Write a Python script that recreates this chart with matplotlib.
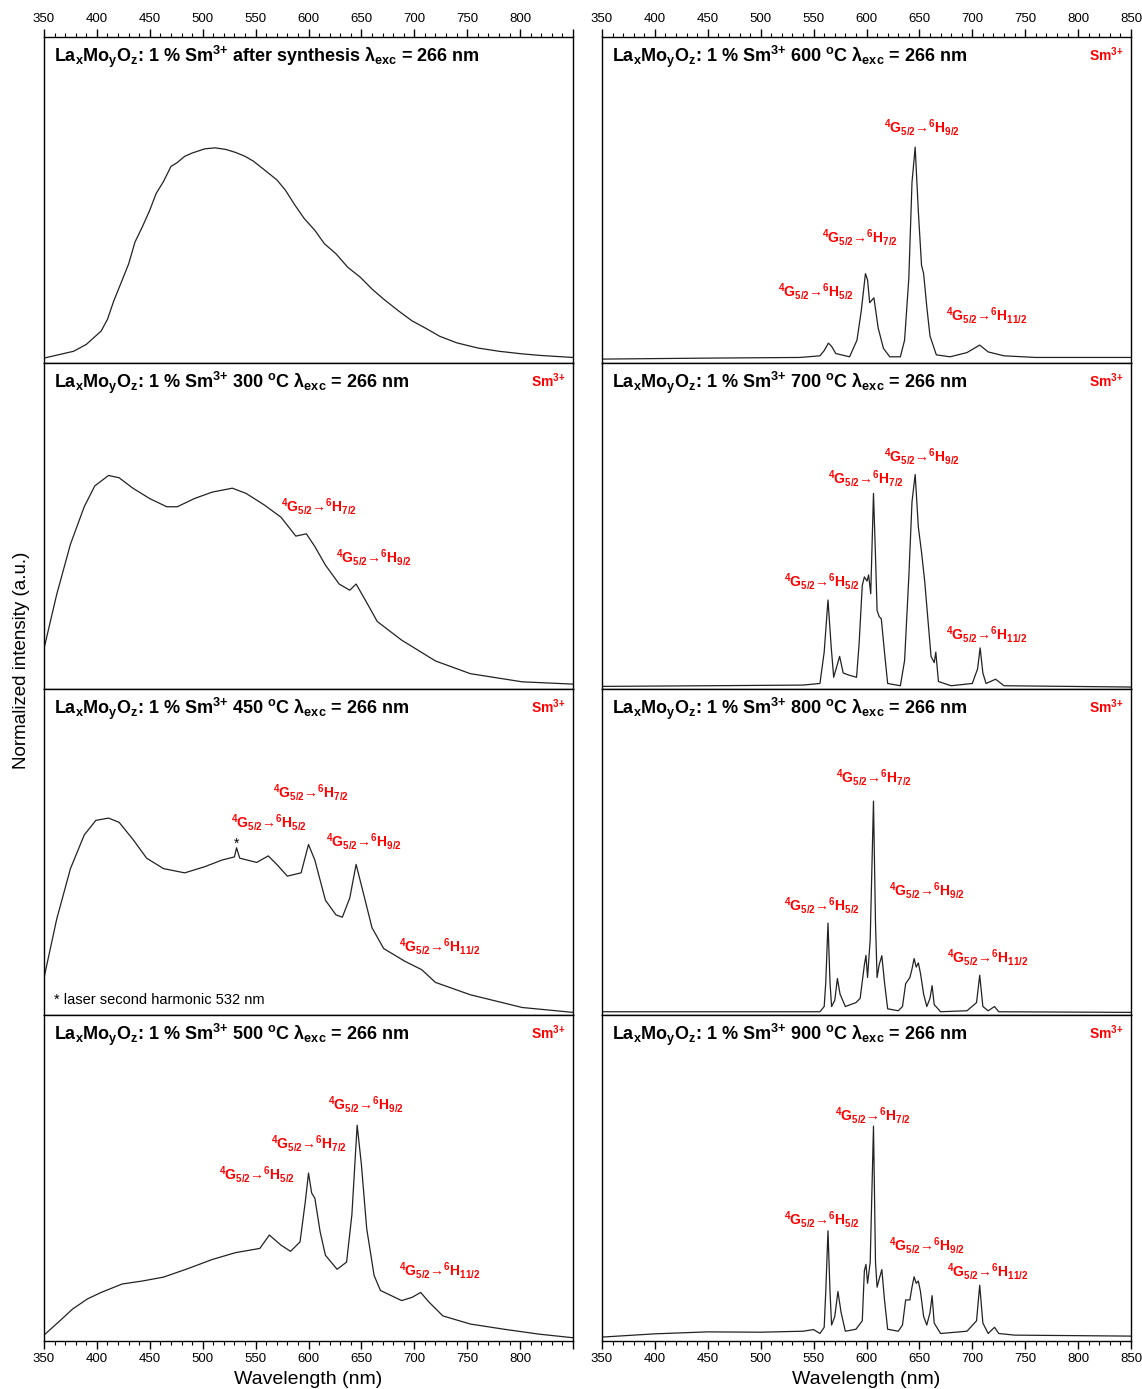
import matplotlib
matplotlib.use("Agg")
import matplotlib.pyplot as plt
from matplotlib.ticker import MultipleLocator

plt.rcParams['font.family'] = ['Liberation Sans', 'DejaVu Sans']
plt.rcParams['mathtext.default'] = 'regular'

# ---- data (wavelength in nm, intensity normalised to panel height) ----
wl_syn = [350, 378, 390, 404, 410, 416, 423, 430, 436, 443, 450, 456, 463, 470, 476, 483, 490, 502,
          512, 522, 531, 540, 548, 560, 570, 578, 587, 596, 606, 615, 626, 637, 649, 660, 671, 685,
          698, 710, 724, 740, 760, 780, 802, 820, 850]
int_syn = [0.015, 0.036, 0.057, 0.098, 0.134, 0.191, 0.247, 0.304, 0.371, 0.418, 0.469, 0.52, 0.557,
           0.603, 0.615, 0.634, 0.644, 0.657, 0.66, 0.655, 0.646, 0.634, 0.619, 0.588, 0.562, 0.531,
           0.485, 0.443, 0.407, 0.366, 0.335, 0.294, 0.263, 0.227, 0.196, 0.16, 0.129, 0.108, 0.082,
           0.062, 0.046, 0.036, 0.028, 0.023, 0.017]

wl_300 = [350, 362, 375, 388, 398, 411, 421, 434, 450, 466, 476, 492, 509, 528, 541, 558, 574, 588,
          598, 606, 616, 629, 639, 645, 654, 665, 688, 720, 753, 802, 850]
int_300 = [0.124, 0.29, 0.444, 0.559, 0.623, 0.655, 0.648, 0.616, 0.584, 0.559, 0.559, 0.584, 0.604,
           0.616, 0.60, 0.565, 0.527, 0.469, 0.476, 0.437, 0.38, 0.322, 0.303, 0.322, 0.271, 0.207,
           0.15, 0.086, 0.047, 0.022, 0.015]

wl_450 = [350, 362, 375, 388, 399, 411, 421, 434, 447, 463, 483, 502, 518, 530, 532, 535, 551, 562,
          570, 580, 593, 600, 606, 616, 626, 632, 639, 645, 652, 660, 671, 691, 707, 720, 753, 802, 850]
int_450 = [0.114, 0.294, 0.449, 0.552, 0.597, 0.604, 0.591, 0.539, 0.481, 0.449, 0.436, 0.455, 0.475,
           0.485, 0.513, 0.481, 0.468, 0.488, 0.462, 0.426, 0.436, 0.523, 0.475, 0.352, 0.307, 0.30,
           0.359, 0.462, 0.372, 0.268, 0.204, 0.165, 0.139, 0.10, 0.062, 0.023, 0.008]

wl_500 = [350, 365, 377, 391, 404, 424, 443, 463, 486, 509, 531, 554, 563, 574, 583, 592, 597, 600,
          603, 606, 611, 616, 627, 636, 641, 646, 650, 655, 662, 668, 688, 698, 706, 714, 727, 753,
          785, 818, 850]
int_500 = [0.018, 0.062, 0.098, 0.129, 0.149, 0.175, 0.184, 0.196, 0.222, 0.25, 0.271, 0.284, 0.325,
           0.294, 0.275, 0.304, 0.428, 0.515, 0.454, 0.438, 0.335, 0.263, 0.22, 0.242, 0.387, 0.662,
           0.541, 0.345, 0.201, 0.155, 0.124, 0.134, 0.149, 0.119, 0.077, 0.052, 0.036, 0.021, 0.01]

wl_600 = [350, 450, 537, 556, 560, 564, 567, 571, 584, 591, 595, 599, 601, 603, 607, 611, 616, 622,
          632, 636, 640, 643, 646, 649, 652, 654, 657, 660, 666, 679, 695, 707, 715, 730, 760, 850]
int_600 = [0.012, 0.015, 0.017, 0.022, 0.038, 0.061, 0.051, 0.029, 0.019, 0.07, 0.159, 0.274, 0.255,
           0.185, 0.20, 0.108, 0.045, 0.019, 0.019, 0.07, 0.26, 0.554, 0.662, 0.465, 0.30, 0.274,
           0.172, 0.083, 0.025, 0.019, 0.032, 0.055, 0.034, 0.022, 0.017, 0.017]

wl_700 = [350, 450, 540, 556, 560, 563.6, 566.7, 569, 574.6, 578, 584, 590.6, 593, 596, 598, 600.5,
          602, 604, 606.6, 608.5, 610, 612, 614, 617, 620, 632, 636, 640, 643, 646, 649, 652, 655,
          658, 661, 664, 665.5, 668, 680, 700, 705, 707.4, 710, 713, 722, 730, 850]
int_700 = [0.008, 0.01, 0.012, 0.017, 0.113, 0.273, 0.126, 0.036, 0.10, 0.049, 0.042, 0.036, 0.138,
           0.318, 0.344, 0.331, 0.35, 0.292, 0.60, 0.408, 0.241, 0.222, 0.215, 0.113, 0.017, 0.01,
           0.087, 0.344, 0.574, 0.658, 0.497, 0.42, 0.331, 0.215, 0.10, 0.081, 0.113, 0.023, 0.01,
           0.017, 0.062, 0.126, 0.049, 0.017, 0.03, 0.01, 0.006]

wl_800 = [350, 450, 540, 556, 560, 561.5, 563.6, 565.5, 567, 570, 572.5, 575, 580, 590, 594, 598,
          599.5, 601, 603.5, 606.6, 608.5, 610, 612, 614.5, 617, 620, 630, 634, 637, 641, 643, 645,
          647, 649, 651, 654, 657, 660, 662, 664, 670, 695, 704, 707, 710, 715, 721, 725, 850]
int_800 = [0.01, 0.01, 0.01, 0.01, 0.026, 0.10, 0.282, 0.10, 0.026, 0.045, 0.112, 0.064, 0.026,
           0.038, 0.051, 0.154, 0.183, 0.115, 0.231, 0.656, 0.282, 0.115, 0.154, 0.182, 0.10, 0.019,
           0.013, 0.026, 0.096, 0.115, 0.141, 0.173, 0.147, 0.16, 0.128, 0.064, 0.026, 0.051, 0.09,
           0.032, 0.01, 0.013, 0.038, 0.122, 0.026, 0.013, 0.026, 0.01, 0.008]

wl_900 = [350, 400, 450, 500, 540, 550, 556, 560, 561.5, 563.6, 565.5, 567, 570, 573, 576, 580, 590,
          596, 598, 599.5, 601, 603.5, 606.6, 608.5, 610, 612, 614.5, 617, 620, 630, 634, 637, 641,
          643, 645, 647, 649, 651, 654, 657, 660, 662, 664, 670, 695, 704, 707, 710, 715, 721, 725,
          740, 850]
int_900 = [0.012, 0.022, 0.028, 0.027, 0.03, 0.035, 0.023, 0.042, 0.152, 0.338, 0.152, 0.049, 0.075,
           0.152, 0.087, 0.03, 0.036, 0.062, 0.216, 0.235, 0.177, 0.242, 0.659, 0.242, 0.165, 0.19,
           0.219, 0.126, 0.036, 0.03, 0.049, 0.126, 0.126, 0.165, 0.197, 0.177, 0.184, 0.152, 0.075,
           0.049, 0.087, 0.139, 0.055, 0.023, 0.03, 0.062, 0.171, 0.055, 0.023, 0.042, 0.023, 0.018,
           0.015]

conditions = ['after synthesis', '300 $^o$C', '450 $^o$C', '500 $^o$C',
              '600 $^o$C', '700 $^o$C', '800 $^o$C', '900 $^o$C']
spectra = [(wl_syn, int_syn), (wl_300, int_300), (wl_450, int_450), (wl_500, int_500),
           (wl_600, int_600), (wl_700, int_700), (wl_800, int_800), (wl_900, int_900)]

# transition labels per panel: (final state, wavelength, height)
labels = [
    [],
    [('7/2', 574, 0.561), ('9/2', 626, 0.402)],
    [('7/2', 566.5, 0.684), ('5/2', 526.7, 0.592), ('9/2', 616.5, 0.531), ('11/2', 685.5, 0.209)],
    [('9/2', 618.4, 0.724), ('7/2', 564.6, 0.607), ('5/2', 515.4, 0.512), ('11/2', 685.5, 0.215)],
    [('9/2', 616.5, 0.723), ('7/2', 558, 0.385), ('5/2', 516.4, 0.218), ('11/2', 675, 0.145)],
    [('9/2', 616.5, 0.712), ('7/2', 563.6, 0.647), ('5/2', 522, 0.331), ('11/2', 675, 0.166)],
    [('7/2', 571, 0.73), ('5/2', 522, 0.337), ('9/2', 621.3, 0.383), ('11/2', 676, 0.175)],
    [('7/2', 570, 0.693), ('5/2', 522, 0.374), ('9/2', 621.3, 0.294), ('11/2', 676, 0.212)],
]

W, H = 1142, 1389
fig = plt.figure(figsize=(W / 100, H / 100), dpi=100)

left_px = [44, 602]
ax_w = 529 / W
row_h = 326 / H
top = 1 - 37 / H

for i in range(8):
    col = i // 4
    row = i % 4
    ax = fig.add_axes([left_px[col] / W, top - (row + 1) * row_h, ax_w, row_h])
    wl, inten = spectra[i]
    ax.plot(wl, inten, color='#222222', lw=0.9)
    ax.set_xlim(350, 850)
    ax.set_ylim(0, 1)
    ax.set_yticks([])
    ax.xaxis.set_major_locator(MultipleLocator(50))
    ax.xaxis.set_minor_locator(MultipleLocator(10))
    for s in ax.spines.values():
        s.set_linewidth(1.0)

    if row == 0:
        ax.xaxis.tick_top()
        ax.tick_params(axis='x', which='both', direction='out', top=True, bottom=False,
                       labeltop=True, labelbottom=False)
    elif row == 3:
        ax.tick_params(axis='x', which='both', direction='out', top=False, bottom=True)
    else:
        ax.tick_params(axis='x', which='both', top=False, bottom=False,
                       labeltop=False, labelbottom=False)
    ax.tick_params(axis='x', which='major', length=6, width=1, labelsize=9.5, pad=3)
    ax.tick_params(axis='x', which='minor', length=3, width=0.8)

    if col == 0:
        ax.set_xticks(range(350, 851, 50))
        ax.set_xticklabels([str(v) for v in range(350, 801, 50)] + [''])

    ax.text(0.018, 0.94, 'La$_x$Mo$_y$O$_z$: 1 % Sm$^{3{+}}$ ' + conditions[i] +
            ' λ$_{exc}$ = 266 nm', transform=ax.transAxes, fontsize=13,
            fontweight='bold', va='center', ha='left')
    if i != 0:
        ax.text(0.986, 0.945, 'Sm$^{3{+}}$', transform=ax.transAxes, fontsize=10,
                fontweight='bold', color='red', va='center', ha='right')

    for final, x, y in labels[i]:
        ax.text(x, y, '$^4$G$_{5/2}$→$^6$H$_{' + final + '}$', color='red',
                fontsize=10, fontweight='bold', va='center', ha='left')

    if i == 2:
        ax.text(532.4, 0.525, '*', fontsize=10, ha='center', va='center')
        ax.text(0.018, 0.046, '* laser second harmonic 532 nm', transform=ax.transAxes,
                fontsize=10.5, va='center', ha='left')

fig.text(22 / W, 1 - 660 / H, 'Normalized intensity (a.u.)', rotation=90,
         fontsize=13.5, ha='center', va='center')
fig.text((44 + 573) / 2 / W, 1 - 1379 / H, 'Wavelength (nm)', fontsize=14,
         ha='center', va='center')
fig.text((602 + 1131) / 2 / W, 1 - 1379 / H, 'Wavelength (nm)', fontsize=14,
         ha='center', va='center')

fig.savefig('out.png', dpi=100)
